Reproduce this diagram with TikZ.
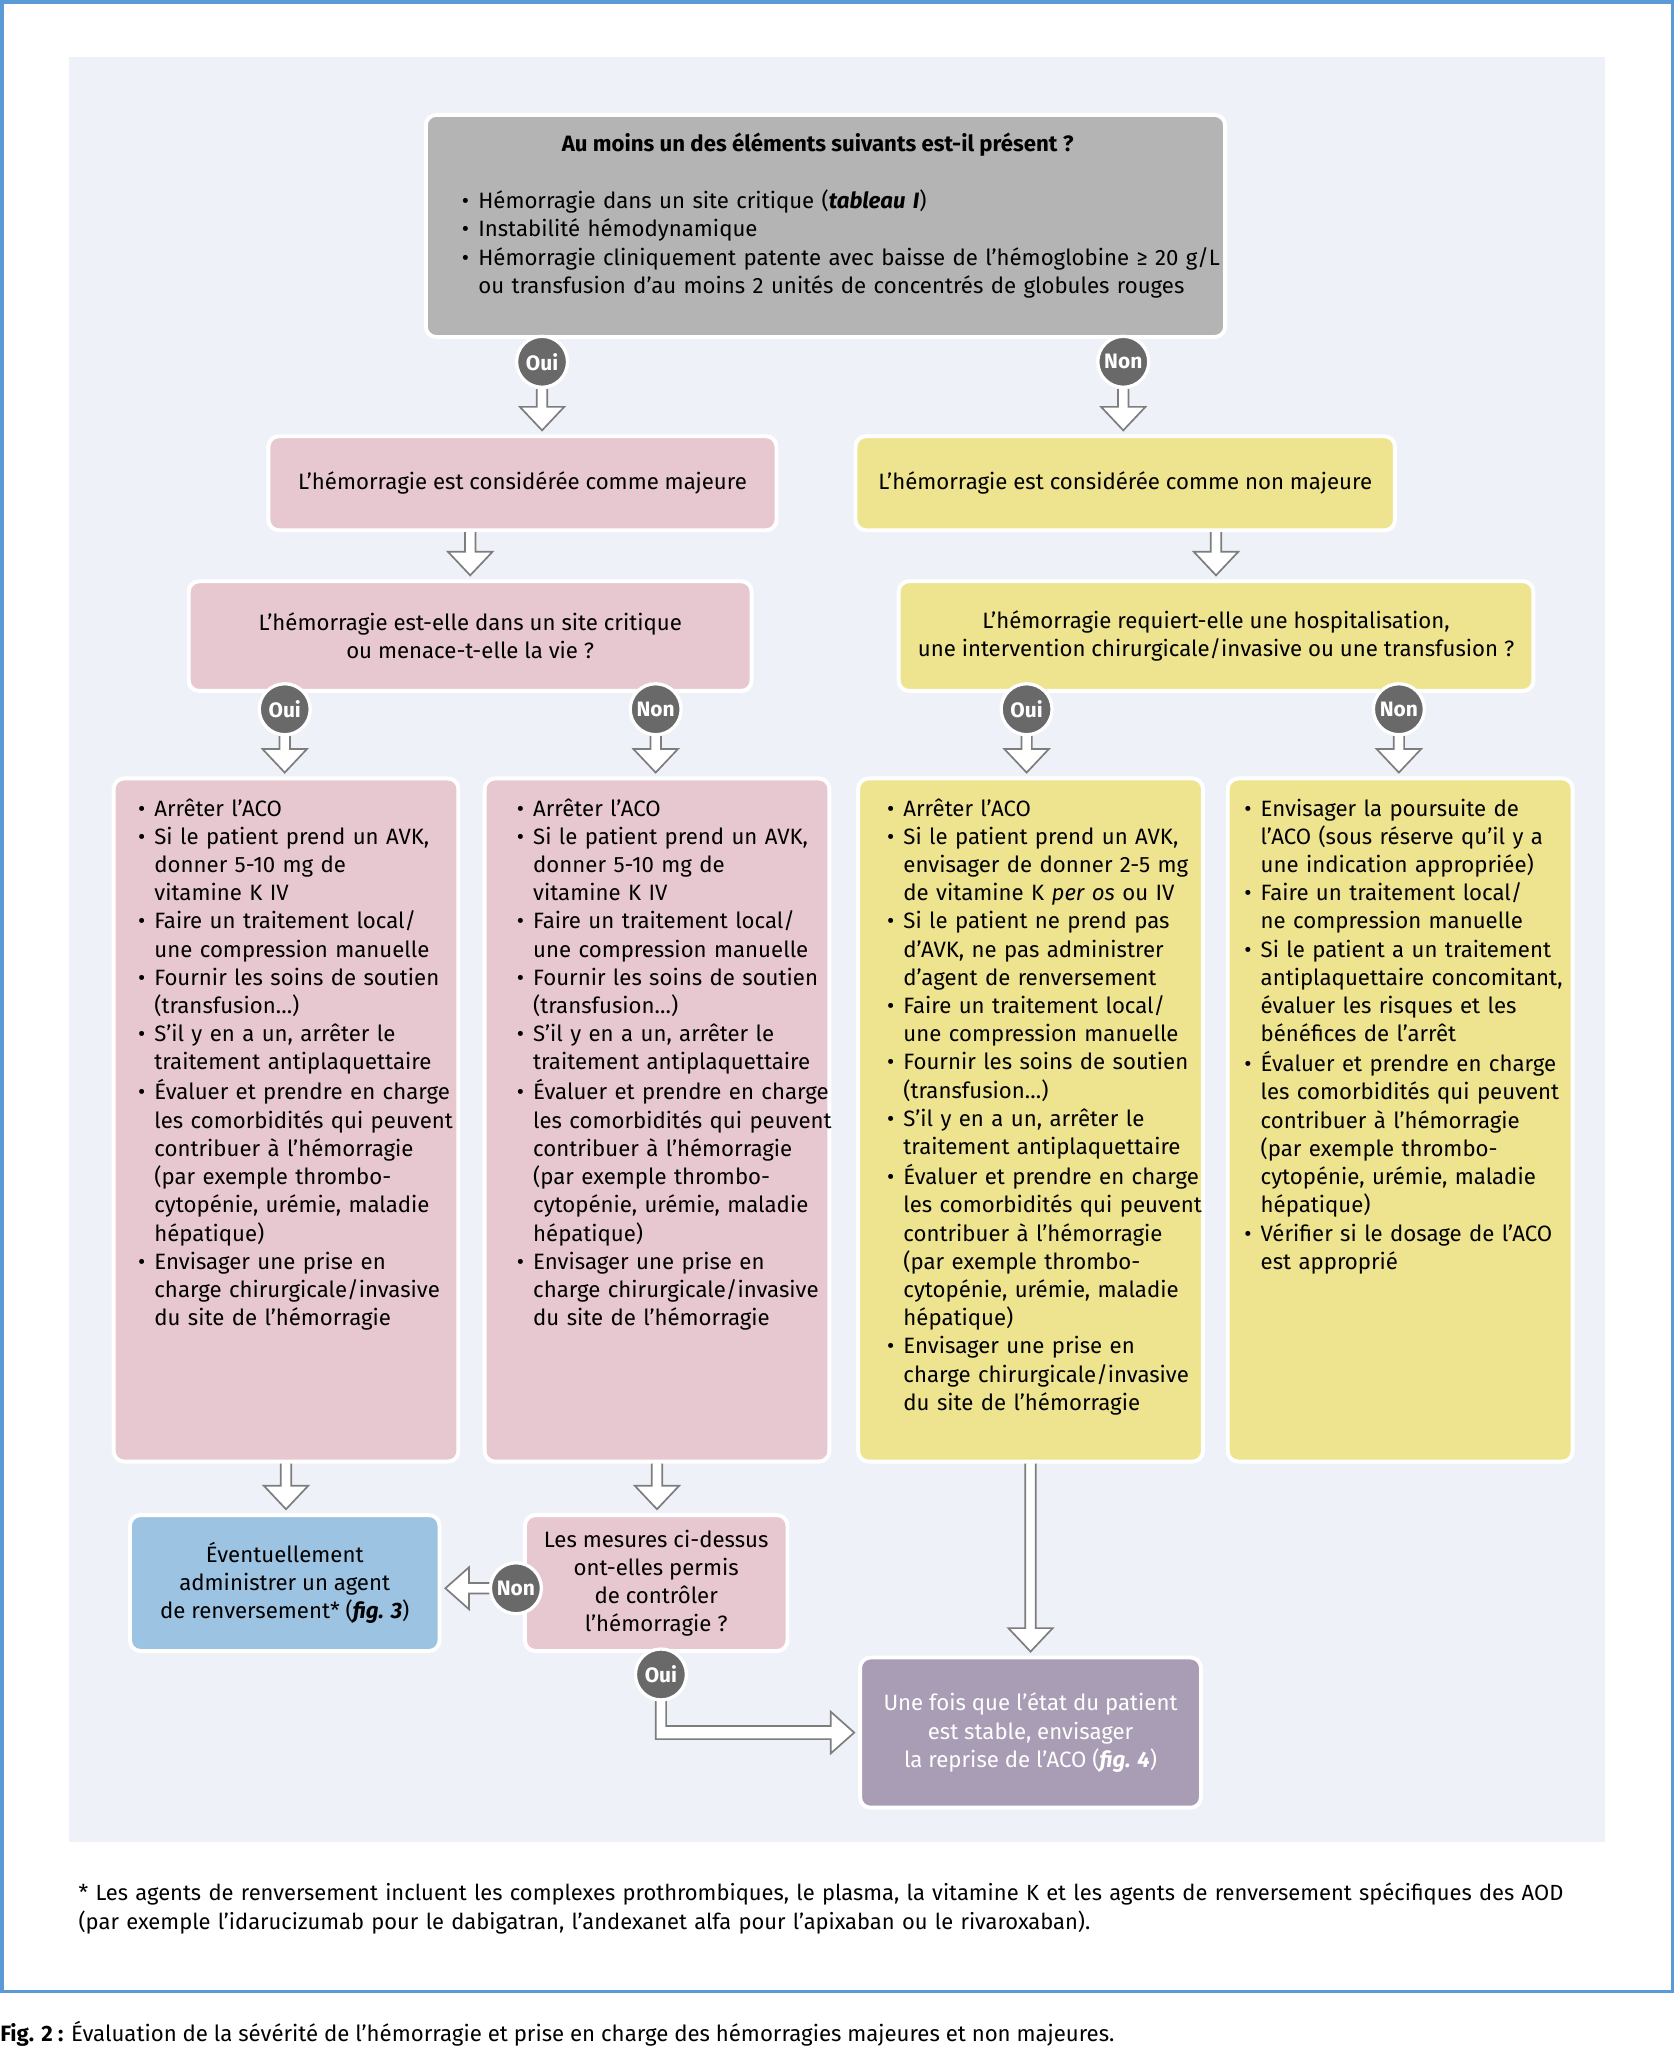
\documentclass[tikz,border=0pt]{standalone}
\usepackage{fontspec}
\setmainfont{Fira Sans}
\usetikzlibrary{calc}
\definecolor{frameblue}{RGB}{91,155,213}
\definecolor{panel}{RGB}{238,241,248}
\definecolor{boxgray}{RGB}{180,180,180}
\definecolor{boxpink}{RGB}{232,200,208}
\definecolor{boxyellow}{RGB}{238,227,142}
\definecolor{boxblue}{RGB}{157,195,226}
\definecolor{boxpurple}{RGB}{168,157,181}
\definecolor{circgray}{RGB}{105,105,105}
\definecolor{arrgray}{RGB}{125,125,125}
\newcommand\txt{\fontsize{17}{21.6}\selectfont}
\newcommand\bi[1]{\par\noindent\makebox[12.5pt][l]{•}\strut#1}
\newcommand\ci[1]{\par\noindent\hspace*{12.5pt}\strut#1}
\tikzset{
 box/.style={rectangle, rounded corners=8pt, draw=white, line width=3pt, inner sep=0pt, align=center, font=\txt},
 circ/.style={circle, fill=circgray, draw=white, line width=2.5pt, minimum size=39pt, inner sep=0pt, text=white, font=\fontsize{16}{20}\selectfont\bfseries},
 harrow/.style={draw=arrgray, line width=1.3pt, fill=white, line join=miter},
 bl/.style={anchor=north west, inner sep=0pt, align=left, text width=#1, font=\txt},
}
\newcommand\darrow[2]{\draw[harrow] let \p1=(#1), \p2=(#2) in (\x1-4pt,\y1) -- (\x1-4pt,\y2+21pt) -- (\x1-17pt,\y2+21pt) -- (\x1,\y2+3pt) -- (\x1+17pt,\y2+21pt) -- (\x1+4pt,\y2+21pt) -- (\x1+4pt,\y1);}
\newcommand\larrow[2]{\draw[harrow] let \p1=(#1), \p2=(#2) in (\x1,\y1+4pt) -- (\x2+21pt,\y1+4pt) -- (\x2+21pt,\y1+16pt) -- (\x2+3pt,\y1) -- (\x2+21pt,\y1-16pt) -- (\x2+21pt,\y1-4pt) -- (\x1,\y1-4pt);}
\newcommand\lshape[2]{\draw[harrow] let \p1=(#1), \p2=(#2) in (\x1-4pt,\y1) -- (\x1-4pt,\y2-5pt) -- (\x2-21pt,\y2-5pt) -- (\x2-21pt,\y2-16pt) -- (\x2-3pt,\y2) -- (\x2-21pt,\y2+16pt) -- (\x2-21pt,\y2+5pt) -- (\x1+4pt,\y2+5pt) -- (\x1+4pt,\y1);}
\begin{document}
\begin{tikzpicture}[x=1pt,y=-1pt]
\useasboundingbox (0,0) rectangle (1282,1568);
\fill[white] (0,0) rectangle (1282,1568);
\draw[frameblue, line width=2.5pt] (1.5,1.5) rectangle (1280.5,1525);
\fill[panel] (53,44) rectangle (1229,1410);

% top box
\node[box, fill=boxgray, minimum width=612pt, minimum height=170pt] (top) at (632,173) {};
\node[font=\txt\bfseries, inner sep=0pt] (toptitle) at (626,111) {Au moins un des éléments suivants est-il présent~?};
\node[bl=640pt] (toplist) at (353.5,138) {\bi{Hémorragie dans un site critique (\textbf{\textit{tableau I}})}\bi{Instabilité hémodynamique}\bi{\mbox{Hémorragie cliniquement patente avec baisse de l’hémoglobine ≥ 20~g/L}}\ci{ou transfusion d’au moins 2 unités de concentrés de globules rouges}};

% second row
\node[box, fill=boxpink, minimum width=389pt, minimum height=72pt] (maj) at (400,370) {L’hémorragie est considérée comme majeure};
\node[box, fill=boxyellow, minimum width=413pt, minimum height=72pt] (nmaj) at (861.5,370) {L’hémorragie est considérée comme non majeure};

% questions
\node[box, fill=boxpink, minimum width=431pt, minimum height=84pt] (q1) at (360,487) {L’hémorragie est-elle dans un site critique\\ ou menace-t-elle la vie~?};
\node[box, fill=boxyellow, minimum width=486pt, minimum height=84pt] (q2) at (931,487) {L’hémorragie requiert-elle une hospitalisation,\\ une intervention chirurgicale/invasive ou une transfusion~?};

% big boxes
\node[box, fill=boxpink, minimum width=264pt, minimum height=523pt] (b1) at (219,857.5) {};
\node[box, fill=boxpink, minimum width=264pt, minimum height=523pt] (b2) at (503,857.5) {};
\node[box, fill=boxyellow, minimum width=264pt, minimum height=523pt] (b3) at (789,857.5) {};
\node[box, fill=boxyellow, minimum width=264pt, minimum height=523pt] (b4) at (1072,857.5) {};

\node[bl=255pt] (t1) at (105.5,603) {\bi{Arrêter l’ACO}\bi{Si le patient prend un AVK,}\ci{donner 5-10 mg de}\ci{vitamine K IV}\bi{Faire un traitement local/}\ci{une compression manuelle}\bi{Fournir les soins de soutien}\ci{(transfusion…)}\bi{S’il y en a un, arrêter le}\ci{traitement antiplaquettaire}\bi{Évaluer et prendre en charge}\ci{les comorbidités qui peuvent}\ci{contribuer à l’hémorragie}\ci{(par exemple thrombo-}\ci{cytopénie, urémie, maladie}\ci{hépatique)}\bi{Envisager une prise en}\ci{charge chirurgicale/invasive}\ci{du site de l’hémorragie}};
\node[bl=255pt] (t2) at (395.5,603) {\bi{Arrêter l’ACO}\bi{Si le patient prend un AVK,}\ci{donner 5-10 mg de}\ci{vitamine K IV}\bi{Faire un traitement local/}\ci{une compression manuelle}\bi{Fournir les soins de soutien}\ci{(transfusion…)}\bi{S’il y en a un, arrêter le}\ci{traitement antiplaquettaire}\bi{Évaluer et prendre en charge}\ci{les comorbidités qui peuvent}\ci{contribuer à l’hémorragie}\ci{(par exemple thrombo-}\ci{cytopénie, urémie, maladie}\ci{hépatique)}\bi{Envisager une prise en}\ci{charge chirurgicale/invasive}\ci{du site de l’hémorragie}};
\node[bl=255pt] (t3) at (679,603) {\bi{Arrêter l’ACO}\bi{Si le patient prend un AVK,}\ci{envisager de donner 2-5 mg}\ci{de vitamine K \textit{per os} ou IV}\bi{Si le patient ne prend pas}\ci{d’AVK, ne pas administrer}\ci{d’agent de renversement}\bi{Faire un traitement local/}\ci{une compression manuelle}\bi{Fournir les soins de soutien}\ci{(transfusion…)}\bi{S’il y en a un, arrêter le}\ci{traitement antiplaquettaire}\bi{Évaluer et prendre en charge}\ci{les comorbidités qui peuvent}\ci{contribuer à l’hémorragie}\ci{(par exemple thrombo-}\ci{cytopénie, urémie, maladie}\ci{hépatique)}\bi{Envisager une prise en}\ci{charge chirurgicale/invasive}\ci{du site de l’hémorragie}};
\node[bl=255pt] (t4) at (952.5,603) {\bi{Envisager la poursuite de}\ci{l’ACO (sous réserve qu’il y a}\ci{une indication appropriée)}\bi{Faire un traitement local/}\ci{ne compression manuelle}\bi{Si le patient a un traitement}\ci{antiplaquettaire concomitant,}\ci{évaluer les risques et les}\ci{bénéfices de l’arrêt}\bi{Évaluer et prendre en charge}\ci{les comorbidités qui peuvent}\ci{contribuer à l’hémorragie}\ci{(par exemple thrombo-}\ci{cytopénie, urémie, maladie}\ci{hépatique)}\bi{Vérifier si le dosage de l’ACO}\ci{est approprié}};

% bottom boxes
\node[box, fill=boxblue, minimum width=237pt, minimum height=104pt] (rev) at (218,1212) {Éventuellement\\ administrer un agent\\ de renversement* (\textbf{\textit{fig. 3}})};
\node[box, fill=boxpink, minimum width=201pt, minimum height=104pt] (q3) at (502.4,1212) {Les mesures ci-dessus\\ ont-elles permis\\ de contrôler\\ l’hémorragie~?};
\node[box, fill=boxpurple, text=white, minimum width=261pt, minimum height=115pt] (res) at (789,1326.5) {Une fois que l’état du patient\\ est stable, envisager\\ la reprise de l’ACO (\textbf{\textit{fig. 4}})};

% arrows
\coordinate (c1p) at (415,277);
\coordinate (c2p) at (860,277);
\darrow{415,298}{maj.north -| c1p}
\darrow{860,298}{nmaj.north -| c2p}
\darrow{q1.north |- maj.south}{q1.north}
\darrow{q2.north |- nmaj.south}{q2.north}
\darrow{218,563}{b1.north}
\darrow{502,563}{b2.north}
\darrow{786,563}{b3.north}
\darrow{1071,563}{b4.north}
\darrow{b1.south}{rev.north}
\darrow{b2.south}{q3.north}
\darrow{b3.south}{res.north}
\larrow{376,1216}{rev.east}
\lshape{506,1300}{res.west}

% circles
\node[circ] (c1) at (c1p) {Oui};
\node[circ] (c2) at (c2p) {Non};
\node[circ] (c3) at (218,543) {Oui};
\node[circ] (c4) at (502,543) {Non};
\node[circ] (c5) at (786,543) {Oui};
\node[circ] (c6) at (1071,543) {Non};
\node[circ] (c7) at (395,1216) {Non};
\node[circ] (c8) at (506,1282) {Oui};

% footnote and caption
\node[bl=1200pt, font=\fontsize{16.8}{21.6}\selectfont] (foot) at (60,1440) {\strut * Les agents de renversement incluent les complexes prothrombiques, le plasma, la vitamine K et les agents de renversement spécifiques des AOD\\ (par exemple l’idarucizumab pour le dabigatran, l’andexanet alfa pour l’apixaban ou le rivaroxaban).};
\node[anchor=north west, inner sep=0pt, font=\fontsize{17}{22}\selectfont] (cap) at (0,1547) {\strut\textbf{Fig. 2 :} Évaluation de la sévérité de l’hémorragie et prise en charge des hémorragies majeures et non majeures.};
\end{tikzpicture}
\end{document}
